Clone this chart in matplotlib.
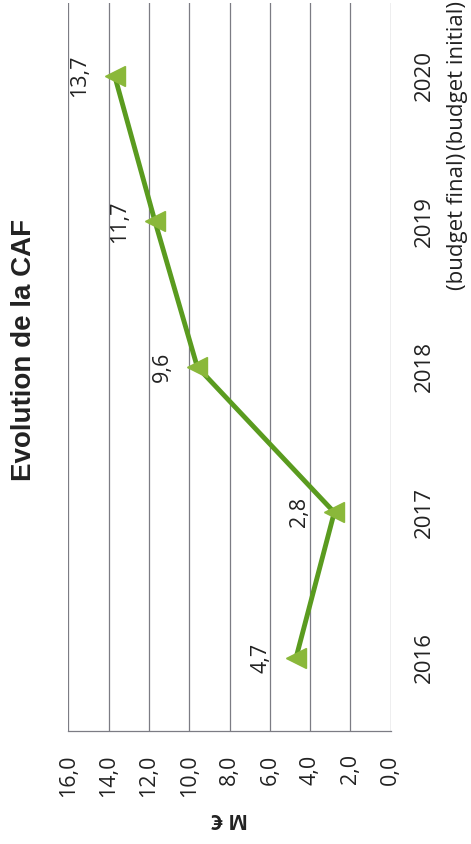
import matplotlib
matplotlib.use('Agg')
import matplotlib.pyplot as plt

# CAF par année (M€), graphique tourné de 90°
years = ['2016', '2017', '2018', '2019\n(budget final)', '2020\n(budget initial)']
caf = [4.7, 2.8, 9.6, 11.7, 13.7]
value_ticks = [0, 2, 4, 6, 8, 10, 12, 14, 16]

line_color = '#5a9b1f'
marker_color = '#8ab83a'
grid_color = '#7c7c84'
txt_font = 'Open Sans'

fig = plt.figure(figsize=(4.71, 8.44), dpi=100)
ax = fig.add_axes([68.3 / 471, 113.3 / 844, (390.7 - 68.3) / 471, (730.7 - 3) / 844])

pos = list(range(len(years)))
ax.plot(caf, pos, '-', color=line_color, linewidth=3.5, zorder=3)
ax.plot(caf, pos, '<', color=marker_color, markersize=14,
        markeredgecolor=marker_color, zorder=4)

# étiquettes de valeurs
for v, p in zip(caf, pos):
    ax.annotate(f'{v:.1f}'.replace('.', ','), (v, p), xytext=(-35, 0),
                textcoords='offset pixels', rotation=90, ha='center', va='center',
                fontsize=15.5, family=txt_font, color='#222222')

ax.set_xlim(16, 0)
ax.set_ylim(-0.5, len(years) - 0.5)

ax.set_xticks(value_ticks)
ax.set_xticklabels([f'{t:.1f}'.replace('.', ',') for t in value_ticks],
                   rotation=90, fontsize=15.5, family=txt_font, color='#222222')
ax.tick_params(axis='x', length=0, pad=17)

ax.yaxis.tick_right()
ax.set_yticks(pos)
ax.set_yticklabels(years, rotation=90, fontsize=16, family=txt_font,
                   color='#222222', va='center', ha='left',
                   multialignment='center', linespacing=1.7)
ax.tick_params(axis='y', length=0, pad=17)

ax.grid(axis='x', color=grid_color, linewidth=0.9)
ax.set_axisbelow(True)
for side in ['top', 'left', 'right']:
    ax.spines[side].set_visible(False)
ax.spines['bottom'].set_color(grid_color)
ax.spines['bottom'].set_linewidth(0.9)

ax.set_xlabel('M €', rotation=180, fontsize=15, family=txt_font,
              fontweight='bold', color='#222222', labelpad=8)

fig.text(24 / 471, (844 - 350) / 844, 'Evolution de la CAF', rotation=90,
         ha='center', va='center', fontsize=20, fontweight='bold',
         family='Liberation Sans', color='#222222')

fig.savefig('out.png', dpi=100)
